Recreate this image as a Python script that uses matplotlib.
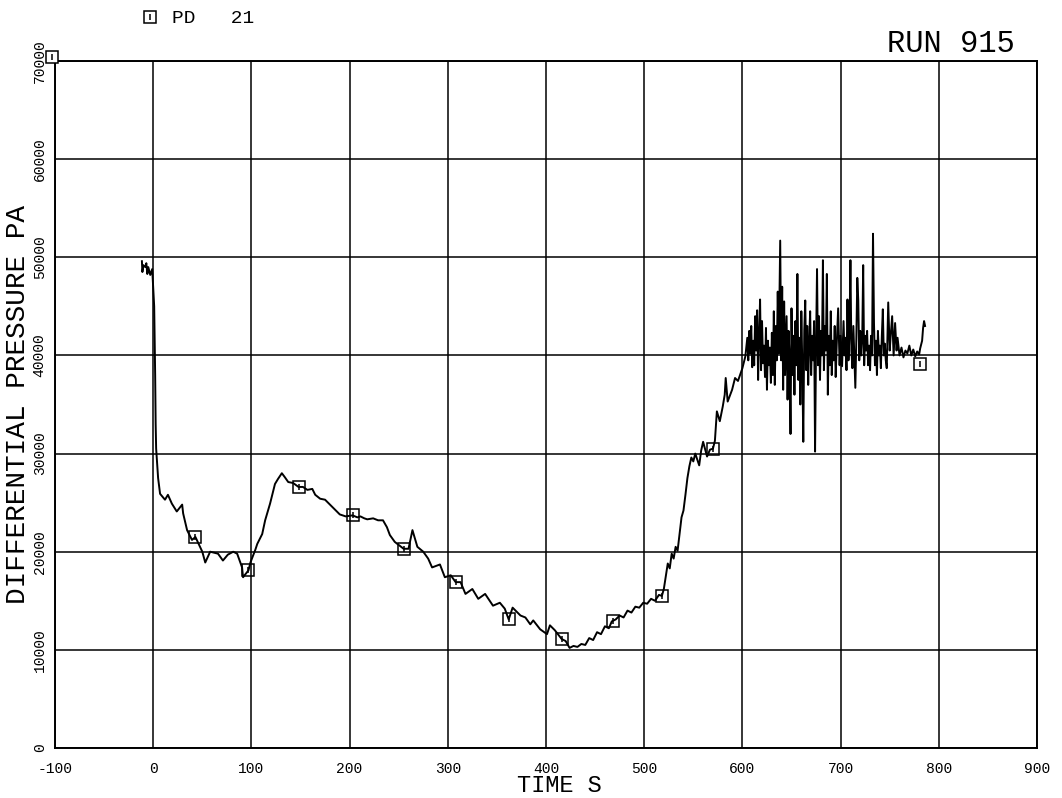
import matplotlib
matplotlib.use("Agg")
import matplotlib.pyplot as plt
from matplotlib.lines import Line2D

plt.rcParams["font.family"] = ["Liberation Mono", "DejaVu Sans Mono"]

# Differential pressure trace PD 21, run 915 (time in s, pressure in Pa)
time_s = [
    -11.5, -11, -10, -8, -7, -6, -5, -3, -1, 1, 2, 2.5, 3, 4, 5, 7, 12, 15, 19,
    24, 29.5, 30.5, 34.5, 39.5, 43, 50, 53, 58, 66, 71, 76, 81.5, 85.5, 90.5,
    91.5, 97, 99, 104, 106, 111, 114, 119, 124, 127, 131, 134, 137.5, 142.5,
    148, 152.5, 157, 162, 165, 170, 175, 180, 185, 190, 196, 203, 208, 211,
    215, 218, 224, 229, 234, 238, 241, 246, 255, 260, 264, 269, 275, 280, 284,
    292, 297, 303, 308, 313, 318, 325, 331, 338, 346, 353, 358, 362, 366, 374,
    379, 384, 387, 394, 401, 404, 409, 416, 420, 424, 428, 432, 436, 440, 444,
    448, 452, 456, 460, 464, 467, 471, 475, 479, 483, 487, 491, 495, 499, 503,
    507, 511, 515, 518, 520, 522, 524, 526, 528, 530, 532, 534, 536, 538, 540,
    542, 544, 546, 548, 550, 552, 554, 556, 558, 560, 564, 567, 570, 572, 574,
    577, 580, 582, 583, 585, 589.5, 592.5, 595.5, 600, 603, 605, 606, 607, 608,
    609, 610, 611, 612, 613, 614, 615, 616, 617, 618, 619, 620, 621, 622, 623,
    624, 625, 626, 627, 628, 629, 630, 631, 632, 633, 634, 635, 636, 637,
    638.5, 639.5, 640.5, 641.5, 642.5, 643.5, 645, 646, 647, 648, 649, 650,
    651, 652, 653, 654, 655, 656, 657, 658, 659, 660, 661, 662, 663, 664, 665,
    666, 667, 668, 669, 670, 671, 672, 673, 674, 675, 676, 677, 678, 679, 680,
    681, 682, 683, 684, 685, 686, 687, 688, 689, 690, 691, 692, 693, 694, 695,
    696, 697.5, 699, 700, 701.5, 703, 704, 705, 706, 707, 708, 709, 710, 711,
    712, 713, 714, 715, 716, 717, 718, 719, 720, 721, 722, 723, 724, 725, 726,
    727, 728, 729, 730, 731, 732, 733, 734, 735, 736, 737, 738, 739, 740, 741,
    742, 743, 744, 745, 746, 747, 748.5, 750, 751, 752.5, 754, 755.5, 757, 758,
    760, 762, 764, 766, 768, 770, 772, 774, 776, 778, 780, 781, 783, 784, 785,
    786,
]
pressure_pa = [
    49600, 48500, 49200, 49000, 49400, 48300, 49000, 48200, 48800, 45000,
    38000, 33000, 30500, 29000, 27500, 25900, 25300, 25800, 24900, 24100,
    24800, 23900, 22200, 21200, 21500, 20000, 18900, 20000, 19800, 19100,
    19700, 20000, 19800, 18400, 17400, 18100, 18900, 20200, 20800, 21800,
    23200, 24900, 26900, 27400, 28000, 27600, 27100, 27000, 26600, 26600,
    26300, 26400, 25800, 25400, 25300, 24800, 24300, 23800, 23600, 23700,
    23500, 23600, 23400, 23300, 23400, 23200, 23200, 22500, 21700, 21000,
    20300, 20300, 22200, 20500, 20000, 19300, 18400, 18700, 17400, 17600,
    16900, 16900, 15700, 16200, 15200, 15700, 14500, 14800, 14200, 13100,
    14300, 13500, 13300, 12600, 13000, 12100, 11600, 12500, 12000, 11100,
    10900, 10200, 10400, 10300, 10600, 10500, 11200, 11000, 11800, 11600,
    12400, 12200, 12900, 13100, 13500, 13300, 14000, 13800, 14400, 14300,
    14800, 14700, 15200, 15000, 15600, 15500, 16200, 17500, 18800, 18300,
    19800, 19300, 20500, 20100, 21800, 23500, 24200, 25800, 27500, 28700,
    29600, 29200, 30000, 29400, 28800, 30300, 31200, 29700, 30400, 30500,
    31300, 34300, 33300, 34800, 36000, 37700, 35300, 36500, 37700, 37400,
    38700, 39900, 41800, 39500, 42500, 40200, 43000, 38800, 41500, 39000,
    44000, 40500, 44600, 37500, 42000, 45700, 38500, 43500, 39200, 41000,
    37800, 42800, 36500, 41500, 39000, 40800, 37200, 42300, 38000, 44500,
    37000, 43000, 39500, 46500, 40200, 51700, 39500, 47000, 36500, 45500,
    38000, 44000, 35500, 42500, 39800, 32000, 44800, 38000, 42000, 36000,
    43500, 39000, 48300, 37500, 41800, 35000, 44500, 39000, 31200, 42500,
    45600, 38500, 43000, 37000, 41500, 44500, 38000, 42000, 39500, 43500,
    30200, 41000, 48800, 39000, 44000, 37500, 42500, 40000, 49700, 38500,
    43000, 40500, 48300, 36000, 42000, 39000, 44500, 38000, 41500, 39500,
    43000, 37800, 41000, 44800, 39000, 42000, 38900, 43500, 40000, 41800,
    38500, 45700, 39500, 42000, 49700, 40500, 38700, 43000, 40000, 36700,
    41500, 47900, 45600, 39500, 42500, 40000, 41500, 49200, 39000, 42000,
    40500, 42500, 39000, 41000, 38500, 42000, 40000, 52400, 43300, 39000,
    41500, 38000, 42500, 40000, 41000, 38700, 42000, 44700, 40000, 41200,
    39500, 38700, 45400, 40500, 42000, 44000, 40000, 43300, 40500, 41800,
    40000, 40800, 39800, 40500, 40200, 41000, 40000, 40600, 39900, 40400,
    40100, 40700, 41500, 42800, 43500, 43000,
]

# Symbol positions along the trace
marker_time = [43, 97, 148, 203, 255, 308, 362, 416, 468, 518, 570, 781]
marker_pa = [21500, 18100, 26600, 23700, 20300, 16900, 13100, 11100, 12900,
             15500, 30500, 39100]

x_ticks = list(range(-100, 901, 100))
y_ticks = list(range(0, 70001, 10000))
x_tick_labels = [str(v) for v in x_ticks]
y_tick_labels = [str(v) for v in y_ticks]

W, H = 1062, 798
fig = plt.figure(figsize=(W / 100, H / 100), dpi=100)
ax = fig.add_axes([55 / W, 1 - 748 / H, 982 / W, 687 / H])
ax.set_xlim(-100, 900)
ax.set_ylim(0, 70000)

ax.set_xticks(x_ticks)
ax.set_xticklabels(x_tick_labels)
ax.set_yticks(y_ticks)
ax.set_yticklabels(y_tick_labels, rotation=90, va="center")
ax.tick_params(length=0, labelsize=10.5, colors="black")
ax.tick_params(axis="x", pad=10)
ax.tick_params(axis="y", pad=6)
ax.grid(True, color="black", linewidth=1.1)
for spine in ax.spines.values():
    spine.set_linewidth(1.4)

ax.plot(time_s, pressure_pa, color="black", linewidth=1.4)
ax.plot(marker_time, marker_pa, "s", ms=9, mfc="none", mec="black", mew=1.1)
ax.plot(marker_time, marker_pa, "|", ms=5, mec="black", mew=1.1)

# Pen start symbol just above the top-left corner
ax.plot([-103], [70400], "s", ms=9, mfc="white", mec="black", mew=1.1, clip_on=False, zorder=5)
ax.plot([-103], [70400], "|", ms=5, mec="black", mew=1.1, clip_on=False, zorder=6)

ax.set_xlabel("TIME S", fontsize=17, va="center")
ax.xaxis.set_label_coords((559 - 55) / 982, (748 - 786) / 687)
ax.set_ylabel("DIFFERENTIAL PRESSURE PA", fontsize=20, va="center", ha="center")
ax.yaxis.set_label_coords((18 - 55) / 982, (748 - 405) / 687)

fig.text(1015 / W, 1 - 52 / H, "RUN 915", ha="right", va="baseline", fontsize=22)

# Legend symbol and label
fig.add_artist(Line2D([150 / W], [1 - 17 / H], transform=fig.transFigure,
                      marker="s", ms=9, mfc="none", mec="black", mew=1.1, ls="none"))
fig.add_artist(Line2D([150 / W], [1 - 17 / H], transform=fig.transFigure,
                      marker="|", ms=5, mec="black", mew=1.1, ls="none"))
fig.text(172 / W, 1 - 23 / H, "PD   21", ha="left", va="baseline", fontsize=14)

fig.savefig("out.png", dpi=100, facecolor="white")
